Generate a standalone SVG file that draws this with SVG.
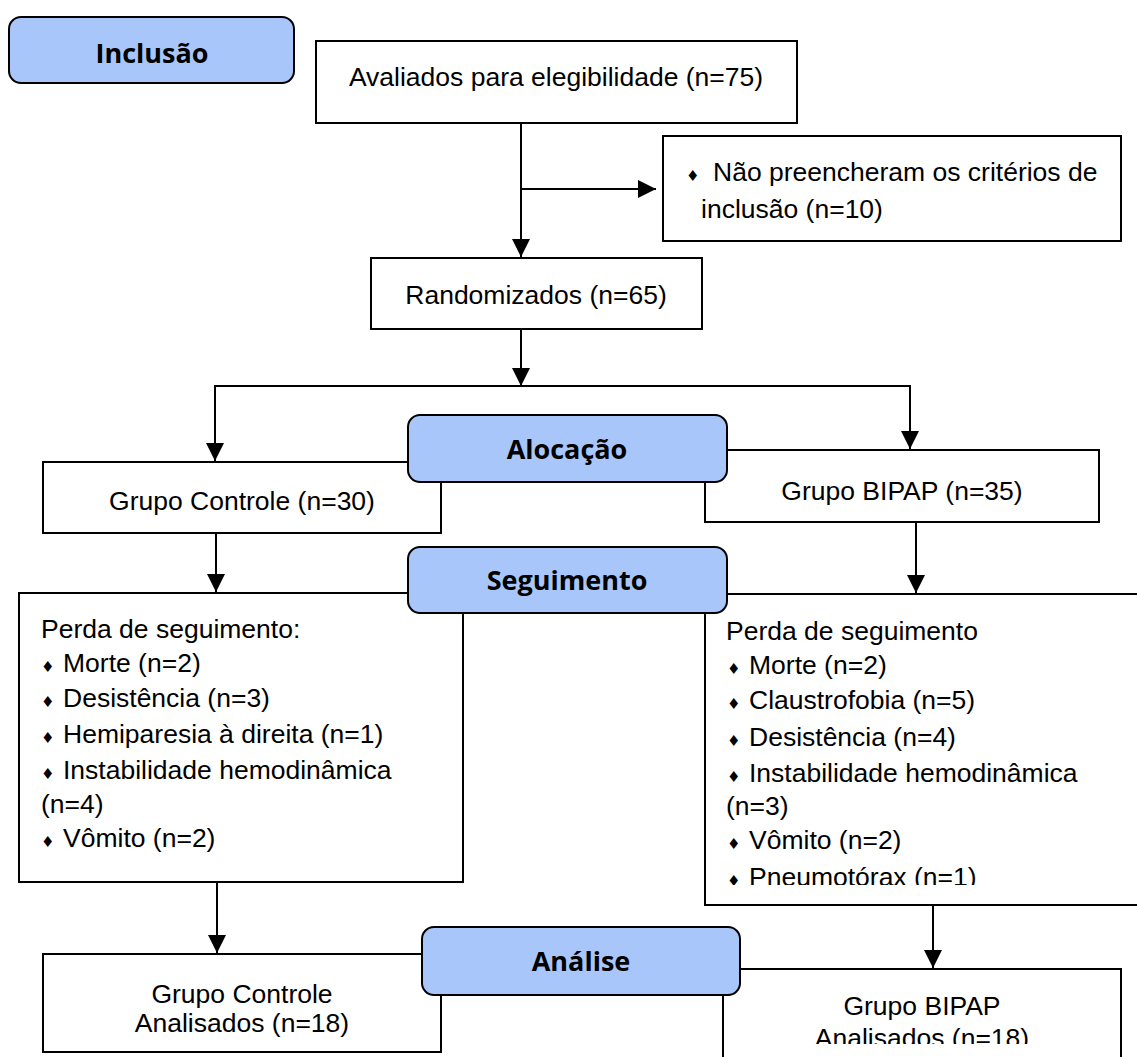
<svg xmlns="http://www.w3.org/2000/svg" width="1137" height="1057" viewBox="0 0 1137 1057">
<defs>
<style>
.box{fill:#ffffff;stroke:#000000;stroke-width:2}
.stage{fill:#a9c6fa;stroke:#000000;stroke-width:2}
.t{font-family:"Liberation Sans",Arial,sans-serif;font-size:26.5px;fill:#000000}
.c{text-anchor:middle}
.st{font-family:"Open Sans","Liberation Sans",sans-serif;font-size:27px;font-weight:bold;fill:#000000;text-anchor:middle}
.b{font-family:"DejaVu Sans",sans-serif;font-size:15px}
.conn{fill:none;stroke:#000000;stroke-width:2}
</style>
<marker id="arr" markerUnits="userSpaceOnUse" markerWidth="18" markerHeight="18" viewBox="0 0 16 16" refX="16" refY="8" orient="auto">
<path d="M0,0 L16,8 L0,16 Z" fill="#000000"/>
</marker>
<clipPath id="clipR"><rect x="700" y="590" width="440" height="295"/></clipPath>
<clipPath id="clipB"><rect x="720" y="965" width="420" height="79"/></clipPath>
</defs>
<rect x="0" y="0" width="1137" height="1057" fill="#ffffff"/>

<g id="connectors">
<line class="conn" x1="521" y1="123" x2="521" y2="257" marker-end="url(#arr)"/>
<line class="conn" x1="521" y1="189" x2="656" y2="189" marker-end="url(#arr)"/>
<line class="conn" x1="521" y1="329" x2="521" y2="386" marker-end="url(#arr)"/>
<line class="conn" x1="215" y1="386" x2="910" y2="386"/>
<line class="conn" x1="215" y1="385" x2="215" y2="461" marker-end="url(#arr)"/>
<line class="conn" x1="910" y1="385" x2="910" y2="449" marker-end="url(#arr)"/>
<line class="conn" x1="216" y1="533" x2="216" y2="592" marker-end="url(#arr)"/>
<line class="conn" x1="916" y1="522" x2="916" y2="593" marker-end="url(#arr)"/>
<line class="conn" x1="217" y1="882" x2="217" y2="953" marker-end="url(#arr)"/>
<line class="conn" x1="933" y1="905" x2="933" y2="968" marker-end="url(#arr)"/>
</g>

<g id="avaliados">
<rect class="box" x="316" y="41" width="481" height="82"/>
<text class="t c" x="556" y="86">Avaliados para elegibilidade (n=75)</text>
</g>

<g id="excluidos">
<rect class="box" x="663" y="136" width="458" height="105"/>
<text class="t" x="686" y="181"><tspan class="b">♦</tspan><tspan x="713">Não preencheram os critérios de</tspan></text>
<text class="t" x="701" y="218">inclusão (n=10)</text>
</g>

<g id="randomizados">
<rect class="box" x="371" y="258" width="331" height="71"/>
<text class="t c" x="536" y="304">Randomizados (n=65)</text>
</g>

<g id="controle">
<rect class="box" x="43" y="462" width="398" height="71"/>
<text class="t c" x="242" y="510">Grupo Controle (n=30)</text>
</g>

<g id="bipap">
<rect class="box" x="705" y="450" width="394" height="72"/>
<text class="t c" x="902" y="500">Grupo BIPAP (n=35)</text>
</g>

<g id="perda-controle">
<rect class="box" x="19" y="593" width="444" height="289"/>
<text class="t" x="41" y="638">Perda de seguimento:</text>
<text class="t" x="41" y="672"><tspan class="b">♦</tspan><tspan x="63">Morte (n=2)</tspan></text>
<text class="t" x="41" y="707"><tspan class="b">♦</tspan><tspan x="63">Desistência (n=3)</tspan></text>
<text class="t" x="41" y="743"><tspan class="b">♦</tspan><tspan x="63">Hemiparesia à direita (n=1)</tspan></text>
<text class="t" x="41" y="779"><tspan class="b">♦</tspan><tspan x="63">Instabilidade hemodinâmica</tspan></text>
<text class="t" x="41" y="813">(n=4)</text>
<text class="t" x="41" y="847"><tspan class="b">♦</tspan><tspan x="63">Vômito (n=2)</tspan></text>
</g>

<g id="perda-bipap">
<rect class="box" x="705" y="594" width="445" height="311"/>
<g clip-path="url(#clipR)">
<text class="t" x="726" y="640">Perda de seguimento</text>
<text class="t" x="727" y="674"><tspan class="b">♦</tspan><tspan x="749">Morte (n=2)</tspan></text>
<text class="t" x="727" y="709"><tspan class="b">♦</tspan><tspan x="749">Claustrofobia (n=5)</tspan></text>
<text class="t" x="727" y="746"><tspan class="b">♦</tspan><tspan x="749">Desistência (n=4)</tspan></text>
<text class="t" x="727" y="782"><tspan class="b">♦</tspan><tspan x="749">Instabilidade hemodinâmica</tspan></text>
<text class="t" x="726" y="815">(n=3)</text>
<text class="t" x="727" y="849"><tspan class="b">♦</tspan><tspan x="749">Vômito (n=2)</tspan></text>
<text class="t" x="727" y="886"><tspan class="b">♦</tspan><tspan x="749">Pneumotórax (n=1)</tspan></text>
</g>
</g>

<g id="analisados-controle">
<rect class="box" x="43" y="954" width="398" height="98"/>
<text class="t c" x="242" y="1003">Grupo Controle</text>
<text class="t c" x="242" y="1032">Analisados (n=18)</text>
</g>

<g id="analisados-bipap">
<rect class="box" x="723" y="969" width="398" height="100"/>
<g clip-path="url(#clipB)">
<text class="t c" x="922" y="1015">Grupo BIPAP</text>
<text class="t c" x="922" y="1047">Analisados (n=18)</text>
</g>
</g>

<g id="inclusao">
<rect class="stage" x="9" y="17" width="285" height="66" rx="12" ry="12"/>
<text class="st" x="152" y="63">Inclusão</text>
</g>

<g id="alocacao">
<rect class="stage" x="408" y="415" width="319" height="67" rx="12" ry="12"/>
<text class="st" x="567" y="459">Alocação</text>
</g>

<g id="seguimento">
<rect class="stage" x="408" y="547" width="319" height="66" rx="12" ry="12"/>
<text class="st" x="567" y="590">Seguimento</text>
</g>

<g id="analise">
<rect class="stage" x="422" y="927" width="318" height="68" rx="12" ry="12"/>
<text class="st" x="581" y="971">Análise</text>
</g>
</svg>
